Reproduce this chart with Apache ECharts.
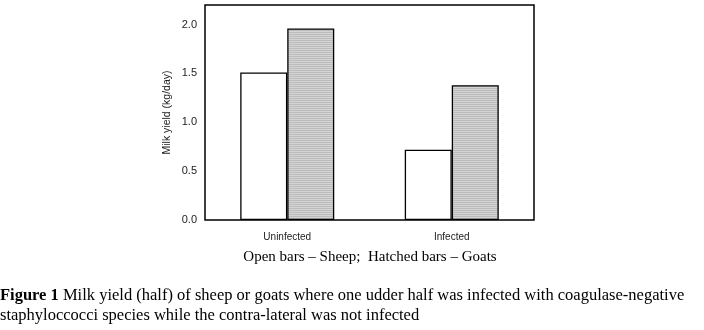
<!DOCTYPE html>
<html>
<head>
<meta charset="utf-8">
<script src="https://cdn.jsdelivr.net/npm/echarts@6/dist/echarts.min.js"></script>
<style>
html,body{margin:0;padding:0;background:#fff;}
#chart{width:704px;height:330px;}
</style>
</head>
<body>
<div id="chart"></div>
<script>
// 数据
var categories = ["Uninfected", "Infected"];
var sheep = [1.51, 0.72];
var goats = [1.96, 1.38];
var yTicks = [0, 0.5, 1.0, 1.5, 2.0];

// 横条纹填充（Goats）
function stripes() {
	var c = document.createElement("canvas");
	c.width = 4;
	c.height = 2;
	var ctx = c.getContext("2d");
	ctx.fillStyle = "#bcbcbc";
	ctx.fillRect(0, 0, 4, 1);
	ctx.fillStyle = "#d4d4d4";
	ctx.fillRect(0, 1, 4, 1);
	return c;
}

var myChart = echarts.init(document.getElementById("chart"));
var option = {
	animation: false,
	backgroundColor: "#fff",
	grid: {
		left: 205, right: 170, top: 5, bottom: 110,
		show: true, borderColor: "#000", borderWidth: 1.5, backgroundColor: "transparent"
	},
	xAxis: {
		type: "category",
		data: categories,
		axisLine: {show: false},
		axisTick: {show: false},
		axisLabel: {margin: 12, fontFamily: "Liberation Sans, Arial", fontSize: 10, color: "#222"}
	},
	yAxis: {
		type: "value",
		min: 0,
		max: 2.2,
		interval: 0.5,
		splitLine: {show: false},
		axisLine: {show: false},
		axisTick: {show: false},
		axisLabel: {
			margin: 8, fontFamily: "Liberation Sans, Arial", fontSize: 11, color: "#222",
			showMaxLabel: false,
			formatter: function(v) {
				return yTicks.indexOf(v) >= 0 ? v.toFixed(1) : "";
			}
		},
		name: "Milk yield (kg/day)",
		nameLocation: "middle",
		nameGap: 32,
		nameTextStyle: {fontFamily: "Liberation Sans, Arial", fontSize: 10.5, color: "#222"}
	},
	series: [
		{
			name: "Sheep", type: "bar", data: sheep,
			barWidth: 47, barGap: "0%",
			itemStyle: {color: "#fff", borderColor: "#000", borderWidth: 1.3}
		},
		{
			name: "Goats", type: "bar", data: goats,
			barWidth: 47, barGap: "0%",
			itemStyle: {color: {image: stripes(), repeat: "repeat"}, borderColor: "#000", borderWidth: 1.3}
		}
	],
	graphic: [
		{
			type: "text", x: 370, y: 257,
			style: {
				text: "Open bars \u2013 Sheep;  Hatched bars \u2013 Goats",
				fontFamily: "Liberation Serif, Times New Roman", fontSize: 15, fill: "#000",
				align: "center", verticalAlign: "middle"
			}
		},
		{
			type: "text", x: 0, y: 286,
			style: {
				text: "{b|Figure 1} Milk yield (half) of sheep or goats where one udder half was infected with coagulase-negative\nstaphyloccocci species while the contra-lateral was not infected",
				fontFamily: "Liberation Serif, Times New Roman", fontSize: 16.5, fill: "#000",
				lineHeight: 20, verticalAlign: "top",
				rich: {b: {fontWeight: "bold", fontFamily: "Liberation Serif, Times New Roman", fontSize: 16.5}}
			}
		}
	]
};
myChart.setOption(option);
</script>
</body>
</html>
